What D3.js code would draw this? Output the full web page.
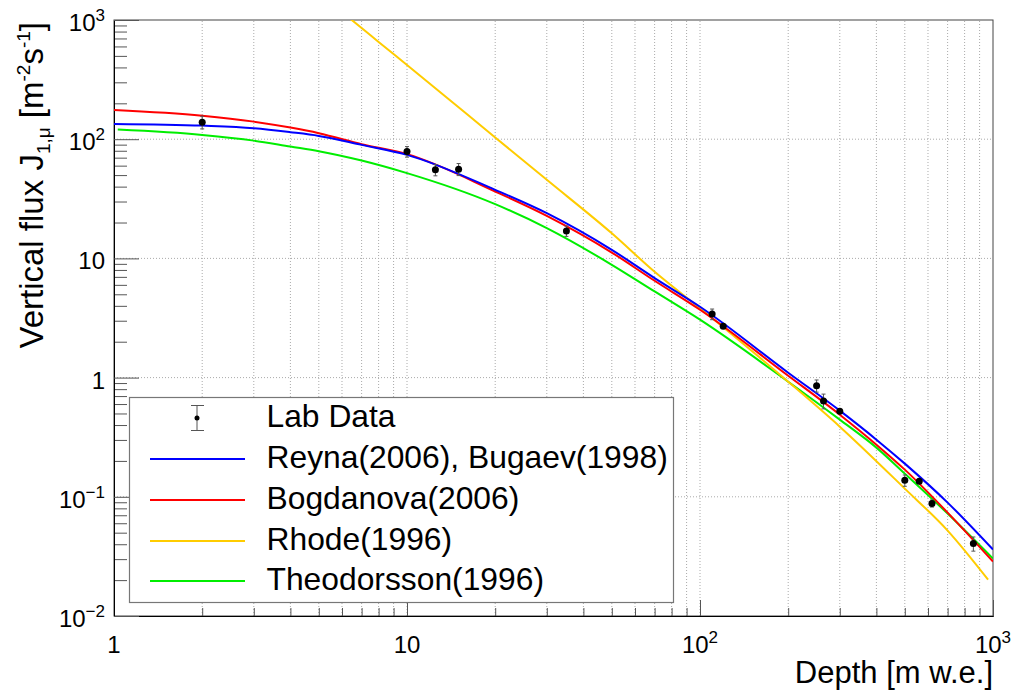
<!DOCTYPE html>
<html>
<head>
<meta charset="utf-8">
<script src="https://cdn.jsdelivr.net/npm/d3@7"></script>
<style>
  body { margin: 0; background: #fff; }
  svg { font-family: "Liberation Sans", Arial, sans-serif; }
  .grid line { stroke: #aaa; stroke-width: 1; stroke-dasharray: 1,2; }
  .axis .tick line { stroke: #555; }
  .axis path { stroke: #000; }
</style>
</head>
<body>
<svg id="canvas" width="1017" height="691"></svg>
<script>
// measured lab points
let depthData = [2, 10, 12.5, 15, 35, 110, 120, 250, 264, 300, 500, 560, 619, 857];
let fluxData  = [139, 78.7, 55.3, 56, 17.0, 3.41, 2.69, 0.855, 0.637, 0.521, 0.1375, 0.135, 0.088, 0.0405];
let fluxErr   = [17, 8, 6, 6.5, 1.7, 0.35, 0.1, 0.1, 0.09, 0.02, 0.015, 0.005, 0.006, 0.0055];

// model curves
let curveDepth      = [1, 2, 3, 4, 5, 7, 10, 20, 30, 50, 70, 100, 200, 300, 400, 500, 700, 1000];
let reynaFlux       = [134.4, 130.0, 123.7, 114.5, 106.6, 89.6, 73.9, 37.6, 23.97, 11.8, 6.84, 3.93, 1.099, 0.528, 0.3016, 0.1898, 0.0894, 0.0361];
let bogdanovaFlux   = [176, 157.6, 140.4, 125.1, 112.3, 90.8, 74.9, 36.4, 22.75, 11.2, 6.49, 3.71, 1.037, 0.4887, 0.2739, 0.169, 0.0737, 0.0286];
let theoDepth       = [1.03, 2, 3, 4, 5, 7, 10, 20, 30, 50, 70, 100, 200, 300, 400, 500, 700, 1000];
let theodorssonFlux = [120.4, 108.6, 97.3, 86.7, 79.3, 66.2, 51.9, 28.5, 17.95, 8.84, 5.28, 3.06, 0.924, 0.444, 0.2585, 0.1565, 0.0723, 0.0303];
let rhodeDepth      = [6, 7, 8, 10, 20, 30, 50, 70, 100, 200, 300, 500, 700, 962];
let rhodeFlux       = [1165, 856.8, 654, 419.6, 103.5, 45.6, 16.23, 7.72, 3.817, 0.924, 0.3877, 0.1171, 0.0521, 0.0202];

let legendNames  = ["Reyna(2006), Bugaev(1998)", "Bogdanova(2006)", "Rhode(1996)", "Theodorsson(1996)"];
let legendColors = ["#0000ff", "#ff0000", "#ffcc00", "#00ee00"];

let xMajor = [1, 10, 100, 1000];
let xLabels = ["1", "10", "10", "10"];
let xExps   = ["", "", "2", "3"];
let yMajor = [0.01, 0.1, 1, 10, 100, 1000];
let yLabels = ["10", "10", "1", "10", "10", "10"];
let yExps   = ["\u22122", "\u22121", "", "", "2", "3"];

let margin = { left: 114, right: 24, top: 20, bottom: 75 };
let width = 1017, height = 691;
let canvas = d3.select("#canvas");

let xScale = d3.scaleLog().domain([1, 1000]).range([margin.left, width - margin.right]);
let yScale = d3.scaleLog().domain([0.01, 1000]).range([height - margin.bottom, margin.top]);

let minorOf = (majors) => {
  let out = [];
  majors.slice(0, -1).forEach(d => { for (let k = 2; k <= 9; k++) out.push(k * d); });
  return out;
};
let xMinor = minorOf(xMajor);
let yMinor = minorOf(yMajor);

canvas.append("defs").append("clipPath").attr("id", "plotClip")
  .append("rect")
  .attr("x", xScale(1)).attr("y", yScale(1000))
  .attr("width", xScale(1000) - xScale(1))
  .attr("height", yScale(0.01) - yScale(1000));

// grid
let grid = canvas.append("g").attr("class", "grid");
grid.selectAll(".vg")
  .data(xMinor.concat(xMajor.slice(1, -1)))
  .enter().append("line")
  .attr("x1", d => xScale(d)).attr("x2", d => xScale(d))
  .attr("y1", yScale(0.01)).attr("y2", yScale(1000));
grid.selectAll(".hg")
  .data(yMajor.slice(1, -1))
  .enter().append("line")
  .attr("x1", xScale(1)).attr("x2", xScale(1000))
  .attr("y1", d => yScale(d)).attr("y2", d => yScale(d));

// frame
canvas.append("rect")
  .attr("x", xScale(1)).attr("y", yScale(1000))
  .attr("width", xScale(1000) - xScale(1))
  .attr("height", yScale(0.01) - yScale(1000))
  .attr("fill", "none").attr("stroke", "#444");

// axes (ticks pointing inward)
let bottom = yScale(0.01);
canvas.append("g").attr("class", "axis")
  .attr("transform", "translate(0," + bottom + ")")
  .call(d3.axisBottom(xScale).tickValues(xMinor).tickSizeInner(-8).tickSizeOuter(0).tickFormat(""));
canvas.append("g").attr("class", "axis")
  .attr("transform", "translate(0," + bottom + ")")
  .call(d3.axisBottom(xScale).tickValues(xMajor).tickSizeInner(-16).tickSizeOuter(0).tickFormat(""));
canvas.append("g").attr("class", "axis")
  .attr("transform", "translate(" + xScale(1) + ",0)")
  .call(d3.axisLeft(yScale).tickValues(yMinor).tickSizeInner(-13).tickSizeOuter(0).tickFormat(""));
canvas.append("g").attr("class", "axis")
  .attr("transform", "translate(" + xScale(1) + ",0)")
  .call(d3.axisLeft(yScale).tickValues(yMajor).tickSizeInner(-25).tickSizeOuter(0).tickFormat(""));

// tick labels
let xl = canvas.selectAll(".xlab").data(xMajor).enter().append("text")
  .attr("x", d => xScale(d)).attr("y", 653)
  .attr("text-anchor", "middle").attr("font-size", 24);
xl.append("tspan").text((d, i) => xLabels[i]);
xl.append("tspan").attr("dy", -10).attr("font-size", 17).text((d, i) => xExps[i]);

let yl = canvas.selectAll(".ylab").data(yMajor).enter().append("text")
  .attr("x", 105).attr("y", d => yScale(d) + 11)
  .attr("text-anchor", "end").attr("font-size", 24);
yl.append("tspan").text((d, i) => yLabels[i]);
yl.append("tspan").attr("dy", -10).attr("font-size", 17).text((d, i) => yExps[i]);

// axis titles
canvas.append("text")
  .attr("x", xScale(1000)).attr("y", 683)
  .attr("text-anchor", "end").attr("font-size", 31)
  .text("Depth [m w.e.]");

let yt = canvas.append("text")
  .attr("transform", "translate(43,22) rotate(-90)")
  .attr("text-anchor", "end").attr("font-size", 33);
yt.append("tspan").text("Vertical flux J");
yt.append("tspan").attr("dy", 7).attr("font-size", 19).text("1,\u03bc");
yt.append("tspan").attr("dy", -7).text(" [m");
yt.append("tspan").attr("dy", -13).attr("font-size", 19).text("-2");
yt.append("tspan").attr("dy", 13).text("s");
yt.append("tspan").attr("dy", -13).attr("font-size", 19).text("-1");
yt.append("tspan").attr("dy", 13).text("]");

// model curves
let line = d3.line()
  .x(d => xScale(d[0]))
  .y(d => yScale(d[1]))
  .curve(d3.curveMonotoneX);

let series = [
  { xs: curveDepth, ys: reynaFlux, color: legendColors[0] },
  { xs: curveDepth, ys: bogdanovaFlux, color: legendColors[1] },
  { xs: rhodeDepth, ys: rhodeFlux, color: legendColors[2] },
  { xs: theoDepth, ys: theodorssonFlux, color: legendColors[3] }
];
let plot = canvas.append("g").attr("clip-path", "url(#plotClip)");
// draw order: green, yellow, red, blue on top
[3, 2, 1, 0].forEach(i => {
  let s = series[i];
  plot.append("path")
    .datum(s.xs.map((x, j) => [x, s.ys[j]]))
    .attr("d", line)
    .attr("fill", "none")
    .attr("stroke", s.color)
    .attr("stroke-width", 2);
});

// lab data with error bars
let pts = plot.selectAll(".pt").data(depthData).enter().append("g");
pts.append("line")
  .attr("x1", d => xScale(d)).attr("x2", d => xScale(d))
  .attr("y1", (d, i) => yScale(fluxData[i] + fluxErr[i]))
  .attr("y2", (d, i) => yScale(fluxData[i] - fluxErr[i]))
  .attr("stroke", "#555").attr("stroke-width", 1);
[1, -1].forEach(sign => {
  pts.append("line")
    .attr("x1", d => xScale(d) - 2).attr("x2", d => xScale(d) + 2)
    .attr("y1", (d, i) => yScale(fluxData[i] + sign * fluxErr[i]))
    .attr("y2", (d, i) => yScale(fluxData[i] + sign * fluxErr[i]))
    .attr("stroke", "#555").attr("stroke-width", 1);
});
pts.append("circle")
  .attr("cx", d => xScale(d))
  .attr("cy", (d, i) => yScale(fluxData[i]))
  .attr("r", 3.5)
  .attr("fill", "#000");

// legend
let lg = canvas.append("g");
lg.append("rect")
  .attr("x", 129.5).attr("y", 397.5).attr("width", 544).attr("height", 205)
  .attr("fill", "#fff").attr("stroke", "#777").attr("stroke-width", 1.2);
let rowY = [418, 459, 500, 541, 581];
lg.append("line").attr("x1", 197).attr("x2", 197).attr("y1", 405.5).attr("y2", 430.5)
  .attr("stroke", "#555");
lg.append("line").attr("x1", 191).attr("x2", 204).attr("y1", 405.5).attr("y2", 405.5).attr("stroke", "#555");
lg.append("line").attr("x1", 191).attr("x2", 204).attr("y1", 430.5).attr("y2", 430.5).attr("stroke", "#555");
lg.append("circle").attr("cx", 197).attr("cy", rowY[0]).attr("r", 2.5).attr("fill", "#000");
lg.append("text").attr("x", 266.5).attr("y", rowY[0] + 9).attr("font-size", 31.8).text("Lab Data");
legendNames.forEach((name, i) => {
  let yy = rowY[i + 1];
  lg.append("line").attr("x1", 150).attr("x2", 245).attr("y1", yy).attr("y2", yy)
    .attr("stroke", legendColors[i]).attr("stroke-width", 2);
  lg.append("text").attr("x", 266.5).attr("y", yy + 9).attr("font-size", 31.8).text(name);
});
</script>
</body>
</html>
